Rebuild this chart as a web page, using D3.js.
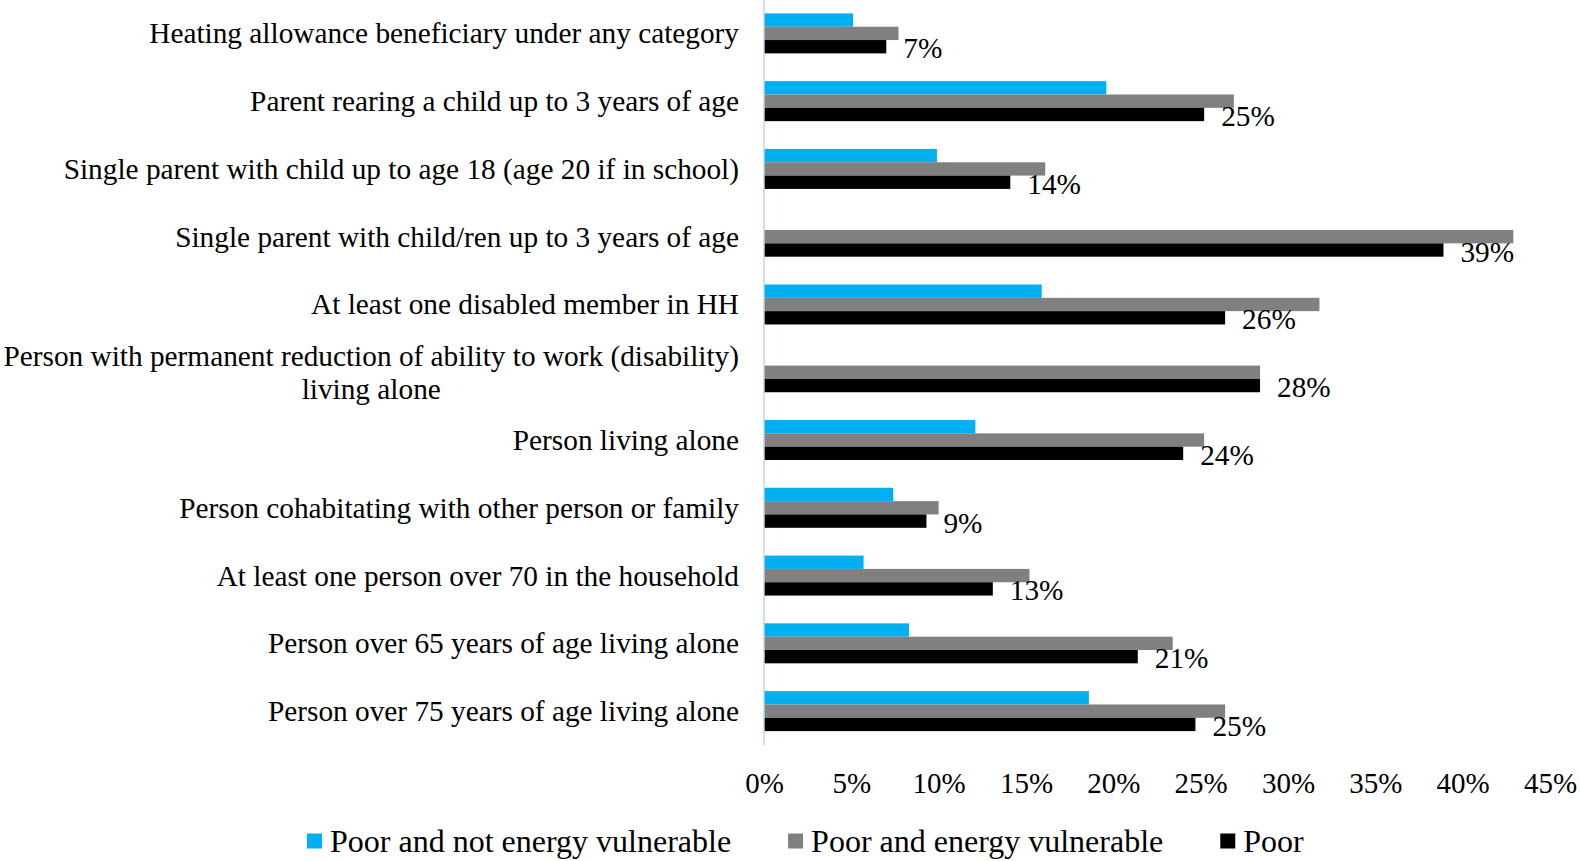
<!DOCTYPE html>
<html>
<head>
<meta charset="utf-8">
<script src="https://cdn.jsdelivr.net/npm/d3@7"></script>
<style>
  html, body { margin: 0; padding: 0; background: #ffffff; }
  svg { display: block; }
  text { font-family: "Liberation Serif", "Times New Roman", serif; fill: #000; }
</style>
</head>
<body>
<svg id="chart" width="1580" height="861"></svg>
<script>
// Household categories, top to bottom
const categories = [
  "Heating allowance beneficiary under any category",
  "Parent rearing a child up to 3 years of age",
  "Single parent with child up to age 18 (age 20 if in school)",
  "Single parent with child/ren up to 3 years of age",
  "At least one disabled member in HH",
  "Person with permanent reduction of ability to work (disability)\nliving alone",
  "Person living alone",
  "Person cohabitating with other person or family",
  "At least one person over 70 in the household",
  "Person over 65 years of age living alone",
  "Person over 75 years of age living alone"
];

// Shares (%) per category
const poorNotVulnerable = [5.1, 19.6, 9.9, 0, 15.9, 0, 12.1, 7.4, 5.7, 8.3, 18.6];
const poorVulnerable    = [7.7, 26.9, 16.1, 42.9, 31.8, 28.4, 25.2, 10.0, 15.2, 23.4, 26.4];
const poor              = [7.0, 25.2, 14.1, 38.9, 26.4, 28.4, 24.0, 9.3, 13.1, 21.4, 24.7];

const seriesNames  = ["Poor and not energy vulnerable", "Poor and energy vulnerable", "Poor"];
const seriesColors = ["#00B0F0", "#808080", "#000000"];
const tickValues   = [0, 5, 10, 15, 20, 25, 30, 35, 40, 45];

const seriesValues = [poorNotVulnerable, poorVulnerable, poor];
const rows = categories.map((c, i) => ({
  category: c,
  values: seriesValues.map((s, k) => ({ key: k, value: s[i] }))
}));

const svg = d3.select("#chart");
const x0 = 764, x1 = 1550;
const fontSize = 29.3;

const x = d3.scaleLinear().domain([0, 45]).range([x0, x1]);
const y = d3.scaleBand().domain(categories).range([-0.5, 745])
  .paddingInner(0.41).paddingOuter(0.205);
const ySub = d3.scaleBand().domain([0, 1, 2]).range([0, y.bandwidth()]);

// Bars
const groups = svg.append("g").selectAll("g")
  .data(rows).join("g")
  .attr("transform", d => `translate(0,${y(d.category)})`);

groups.selectAll("rect")
  .data(d => d.values.filter(v => v.value > 0))
  .join("rect")
  .attr("x", x(0))
  .attr("y", v => ySub(v.key))
  .attr("width", v => x(v.value) - x(0))
  .attr("height", ySub.bandwidth())
  .attr("fill", v => seriesColors[v.key]);

// Data labels for the "Poor" series
const pct = d3.format(".0f");
groups.append("text")
  .attr("x", d => x(d.values[2].value) + 17)
  .attr("y", ySub(2) + ySub.bandwidth() / 2 + 1.5)
  .attr("dominant-baseline", "central")
  .attr("font-size", fontSize)
  .text(d => pct(d.values[2].value) + "%");

// Vertical category axis line
svg.append("line")
  .attr("x1", x(0)).attr("x2", x(0))
  .attr("y1", 0).attr("y2", 745)
  .attr("stroke", "#BDD7EE")
  .attr("stroke-width", 1.5);

// Category labels (right aligned, multi-line labels centred as a block)
const labelRight = 739;
const lineHeight = 33;
categories.forEach(c => {
  const lines = c.split("\n");
  const cy = y(c) + y.bandwidth() / 2;
  const g = svg.append("g");
  const texts = lines.map((line, i) => g.append("text")
    .attr("y", cy + (i - (lines.length - 1) / 2) * lineHeight)
    .attr("dominant-baseline", "central")
    .attr("font-size", fontSize)
    .text(line));
  const widths = texts.map(t => t.node().getComputedTextLength());
  const maxW = d3.max(widths);
  const mid = labelRight - maxW / 2;
  texts.forEach(t => t.attr("x", mid).attr("text-anchor", "middle"));
});

// Value axis
const xAxis = d3.axisBottom(x)
  .tickValues(tickValues)
  .tickFormat(d => d + "%")
  .tickSize(0)
  .tickPadding(0);

const axisG = svg.append("g")
  .attr("transform", "translate(0,783)")
  .call(xAxis);
axisG.select(".domain").remove();
axisG.selectAll("text")
  .attr("font-size", 29)
  .attr("font-family", "Liberation Serif, Times New Roman, serif")
  .attr("fill", "#000")
  .attr("dy", null)
  .attr("dominant-baseline", "central");

// Legend
const legend = svg.append("g").attr("transform", "translate(0,841)");
let lx = 307;
seriesNames.forEach((name, k) => {
  legend.append("rect")
    .attr("x", lx).attr("y", -7.5)
    .attr("width", 15).attr("height", 15)
    .attr("fill", seriesColors[k]);
  const t = legend.append("text")
    .attr("x", lx + 23)
    .attr("y", 0)
    .attr("dominant-baseline", "central")
    .attr("font-size", 32)
    .text(name);
  lx += 23 + t.node().getComputedTextLength() + 57;
});
</script>
</body>
</html>
